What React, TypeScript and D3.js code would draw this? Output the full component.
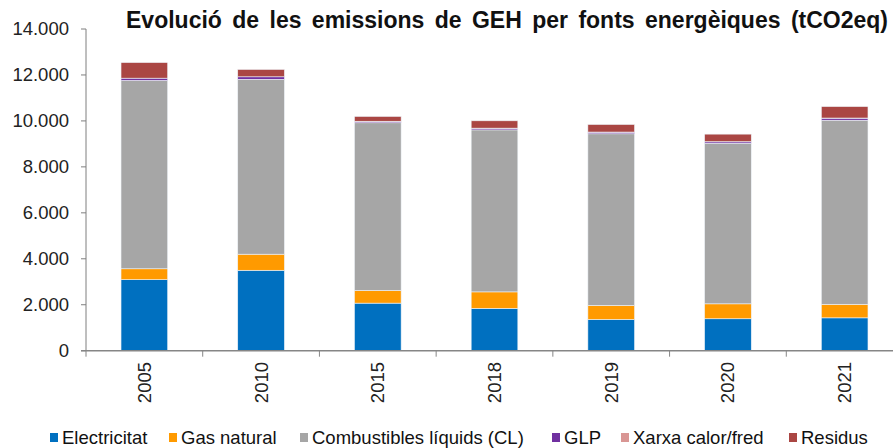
import React from "react";
import * as d3 from "d3";

// stacked emissions per energy source

const years = ["2005", "2010", "2015", "2018", "2019", "2020", "2021"];
const electricitat = [3090, 3500, 2070, 1840, 1360, 1390, 1430];
const gasNatural = [475, 700, 550, 720, 610, 650, 590];
const combustibles = [8195, 7610, 7300, 7050, 7470, 6990, 8010];
const glp = [100, 110, 60, 70, 70, 60, 90];
const xarxa = [0, 0, 5, 5, 5, 5, 5];
const residus = [680, 320, 210, 320, 330, 330, 500];

const seriesNames = [
  "Electricitat",
  "Gas natural",
  "Combustibles líquids (CL)",
  "GLP",
  "Xarxa calor/fred",
  "Residus",
];
const colors = ["#0070C0", "#FF9A00", "#A6A6A6", "#7030A0", "#D99694", "#AA4643"];
const yTicks = [0, 2000, 4000, 6000, 8000, 10000, 12000, 14000];
const title = "Evolució de les emissions de GEH per fonts energèiques (tCO2eq)";

const W = 893;
const H = 448;
const FONT = "'Liberation Sans', Arial, sans-serif";

export default function App() {
  const rows = years.map((y, i) => ({
    year: y,
    s0: electricitat[i],
    s1: gasNatural[i],
    s2: combustibles[i],
    s3: glp[i],
    s4: xarxa[i],
    s5: residus[i],
  }));
  const keys = ["s0", "s1", "s2", "s3", "s4", "s5"];
  const stacked = d3.stack<any>().keys(keys)(rows);

  const x = d3.scaleBand().domain(years).range([86, 903]).paddingInner(0.6).paddingOuter(0.3);
  const y = d3.scaleLinear().domain([0, 14000]).range([350.7, 29]);

  const fmt = d3
    .formatLocale({ decimal: ",", thousands: ".", grouping: [3], currency: ["", "€"] })
    .format(",");

  const x0 = x.range()[0];
  const step = x.step();
  const base = y(0);

  const legendX = [50, 169, 300, 552, 621, 789];

  return (
    <div style={{ position: "absolute", left: 0, top: 0 }}>
      <svg width={W} height={H} style={{ display: "block", fontFamily: FONT }}>
        <rect width={W} height={H} fill="#fff" />

        {/* bars */}
        {stacked.map((layer, si) => (
          <g key={si} fill={colors[si]}>
            {layer.map((d, i) => (
              <rect
                key={i}
                x={x(years[i])}
                y={y(d[1])}
                width={x.bandwidth()}
                height={Math.max(0, y(d[0]) - y(d[1]))}
                stroke="#eef3f8"
                strokeWidth={0.6}
              />
            ))}
          </g>
        ))}

        {/* y axis */}
        <line x1={86} x2={86} y1={y(14000)} y2={base} stroke="#7f7f7f" strokeWidth={1} />
        {yTicks.map((t) => (
          <g key={t}>
            <line x1={81} x2={86} y1={y(t)} y2={y(t)} stroke="#7f7f7f" />
            <text x={69} y={y(t)} dy="0.35em" textAnchor="end" fontSize={18.5} fill="#222">
              {fmt(t)}
            </text>
          </g>
        ))}

        {/* x axis */}
        <line x1={81} x2={W} y1={base} y2={base} stroke="#868686" strokeWidth={1.5} />
        {d3.range(years.length + 1).map((i) => (
          <line
            key={i}
            x1={x0 + i * step}
            x2={x0 + i * step}
            y1={base}
            y2={base + 6}
            stroke="#868686"
          />
        ))}
        {years.map((yr) => {
          const cx = x(yr)! + x.bandwidth() / 2;
          return (
            <text
              key={yr}
              transform={`translate(${cx},362) rotate(-90)`}
              textAnchor="end"
              dy="0.35em"
              fontSize={18.5}
              fill="#222"
            >
              {yr}
            </text>
          );
        })}

        {/* title */}
        <text x={888} y={28} textAnchor="end" fontSize={23} fontWeight="bold" fill="#111" wordSpacing={4}>
          {title}
        </text>

        {/* legend */}
        {seriesNames.map((n, i) => (
          <g key={n}>
            <rect x={legendX[i]} y={433} width={8} height={9} fill={colors[i]} />
            <text x={legendX[i] + 12} y={443.5} fontSize={18.5} fill="#111">
              {n}
            </text>
          </g>
        ))}
      </svg>
    </div>
  );
}
